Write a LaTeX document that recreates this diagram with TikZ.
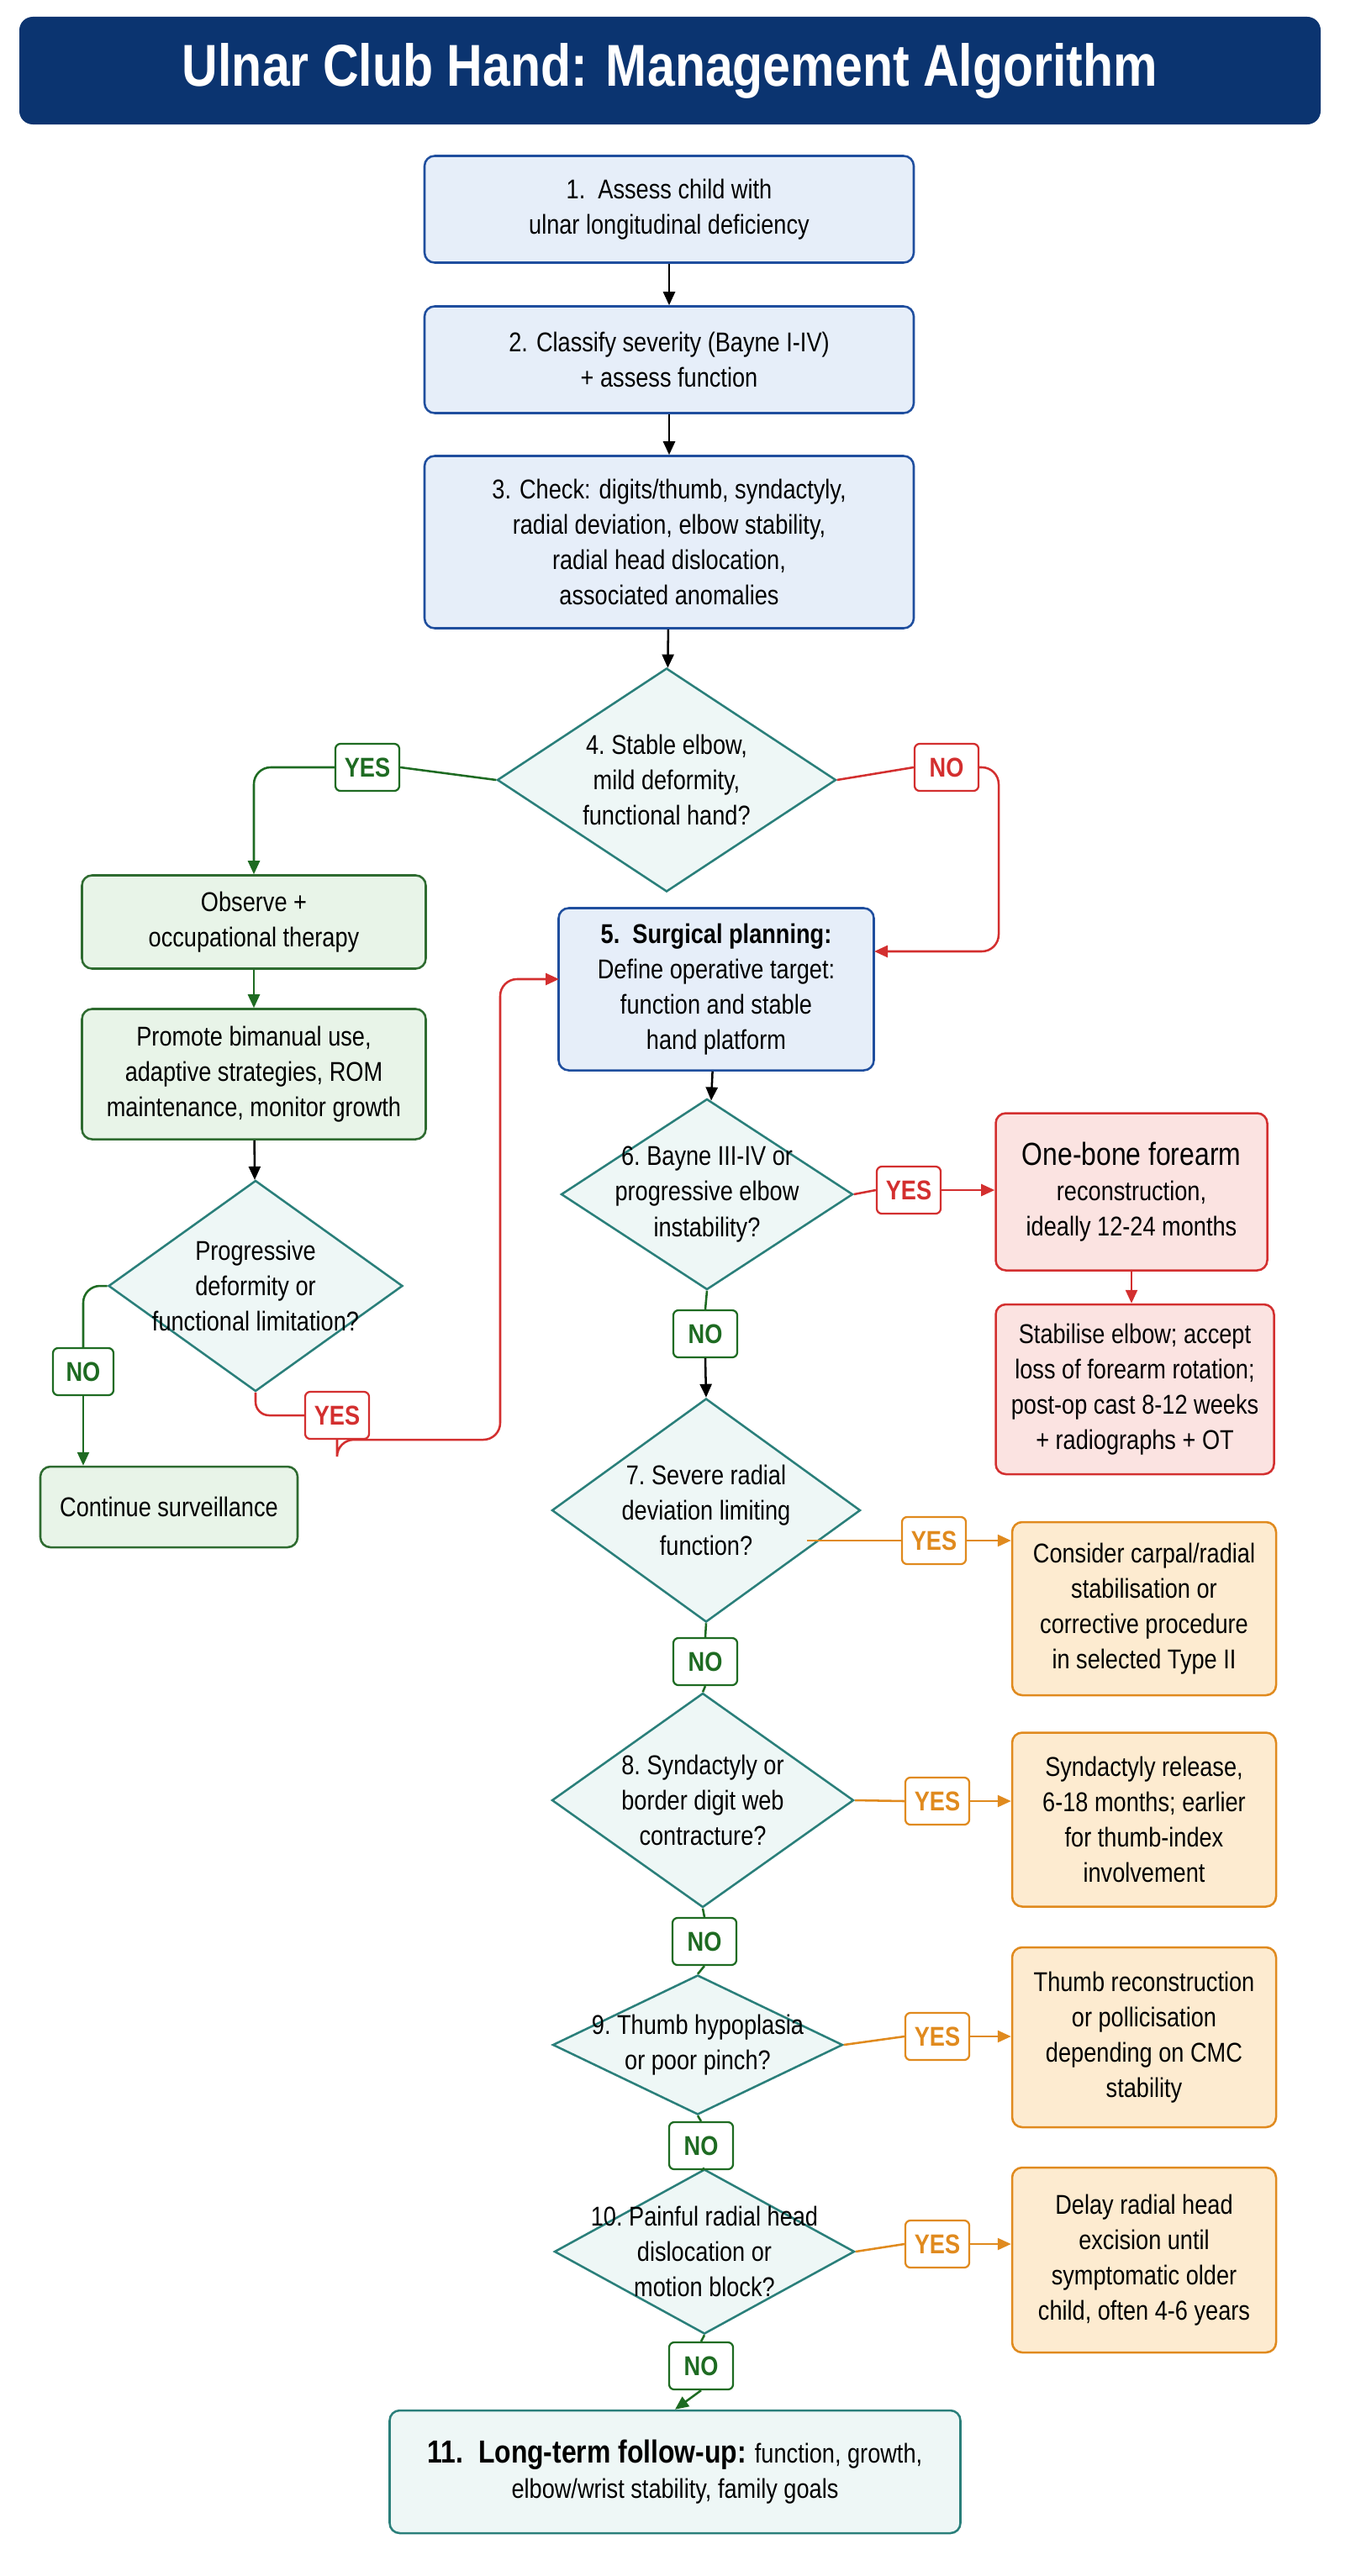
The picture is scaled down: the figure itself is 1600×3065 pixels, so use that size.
\documentclass[tikz,border=0pt]{standalone}
\usepackage{fontspec}
\setmainfont{Liberation Sans}[FakeStretch=0.84]
\usetikzlibrary{shapes.geometric,arrows.meta}
\definecolor{navy}{HTML}{0B3470}
\definecolor{bfill}{HTML}{E6EEF9}\definecolor{bdraw}{HTML}{1F4E9E}
\definecolor{gfill}{HTML}{E8F4E8}\definecolor{gdraw}{HTML}{2E6B30}
\definecolor{tfill}{HTML}{EEF7F6}\definecolor{tdraw}{HTML}{2A7F7A}
\definecolor{rfill}{HTML}{FBE3E1}\definecolor{rdraw}{HTML}{D32F2F}
\definecolor{ofill}{HTML}{FDEBD0}\definecolor{odraw}{HTML}{E08A1E}
\definecolor{gline}{HTML}{1E6B22}
\begin{document}
\begin{tikzpicture}[x=0.25mm,y=-0.25mm,
  txt/.style={font=\fontsize{23}{30}\selectfont,align=center,text=black},
  box/.style={txt,rounded corners=3mm,line width=1.8pt,inner sep=0pt},
  bbox/.style={box,fill=bfill,draw=bdraw},
  gbox/.style={box,fill=gfill,draw=gdraw},
  rbox/.style={box,fill=rfill,draw=rdraw},
  obox/.style={box,fill=ofill,draw=odraw},
  dia/.style={diamond,fill=tfill,draw=tdraw,line width=1.8pt,inner sep=0pt},
  lab/.style={font=\bfseries\fontsize{23}{26}\selectfont,fill=white,rounded corners=1.5mm,line width=1.6pt,inner sep=0pt,minimum width=19mm,minimum height=14mm},
  glab/.style={lab,draw=gline,text=gline},
  rlab/.style={lab,draw=rdraw,text=rdraw},
  olab/.style={lab,draw=odraw,text=odraw},
  ar/.style={line width=1.8pt,-{Triangle[length=4mm,width=3.5mm]}},
  ln/.style={line width=1.8pt}]
\fill[white] (0,0) rectangle (1600,3065);
\node[fill=navy,rounded corners=4mm,minimum width=1548*0.25mm,minimum height=128*0.25mm,text=white,font=\bfseries\fontsize{50}{56}\selectfont] (title) at (797,84) {Ulnar Club Hand: Management Algorithm};
% main column
\node[bbox,minimum width=582*0.25mm,minimum height=127*0.25mm] (b1) at (796,249) {1.\ \ Assess child with\\ulnar longitudinal deficiency};
\node[bbox,minimum width=582*0.25mm,minimum height=127*0.25mm] (b2) at (796,428) {2. Classify severity (Bayne I-IV)\\+ assess function};
\node[bbox,minimum width=582*0.25mm,minimum height=205*0.25mm] (b3) at (796,645) {3. Check: digits/thumb, syndactyly,\\radial deviation, elbow stability,\\radial head dislocation,\\associated anomalies};
\node[dia,minimum width=403*0.25mm,minimum height=266*0.25mm] (d4) at (793,928) {};
\node[txt] at (d4) {4.\ Stable elbow,\\mild deformity,\\functional hand?};
% left branch
\node[gbox,minimum width=409*0.25mm,minimum height=111*0.25mm] (obs) at (302,1097) {Observe +\\occupational therapy};
\node[gbox,minimum width=409*0.25mm,minimum height=155*0.25mm] (prom) at (302,1278) {Promote bimanual use,\\adaptive strategies, ROM\\maintenance, monitor growth};
\node[dia,minimum width=350*0.25mm,minimum height=251*0.25mm] (dp) at (304,1530) {};
\node[txt] at (dp) {Progressive\\deformity or\\functional limitation?};
\node[gbox,minimum width=306*0.25mm,minimum height=96*0.25mm] (cont) at (201,1793) {Continue surveillance};
% surgical column
\node[bbox,minimum width=375*0.25mm,minimum height=193*0.25mm] (b5) at (852,1177) {\textbf{5.\ \ Surgical planning:}\\Define operative target:\\function and stable\\hand platform};
\node[dia,minimum width=347*0.25mm,minimum height=227*0.25mm] (d6) at (841,1421) {};
\node[txt] at (d6) {6.\ Bayne III-IV or\\progressive elbow\\instability?};
\node[rbox,minimum width=323*0.25mm,minimum height=187*0.25mm] (r1) at (1346,1418) {{\fontsize{27}{32}\selectfont One-bone forearm}\\reconstruction,\\ideally 12-24 months};
\node[rbox,minimum width=331*0.25mm,minimum height=202*0.25mm] (r2) at (1350,1653) {Stabilise elbow; accept\\loss of forearm rotation;\\post-op cast 8-12 weeks\\+ radiographs + OT};
\node[dia,minimum width=367*0.25mm,minimum height=266*0.25mm] (d7) at (840,1797) {};
\node[txt] at (d7) {7.\ Severe radial\\deviation limiting\\function?};
\node[obox,minimum width=314*0.25mm,minimum height=206*0.25mm] (o7) at (1361,1914) {Consider carpal/radial\\stabilisation or\\corrective procedure\\in selected Type II};
\node[dia,minimum width=359*0.25mm,minimum height=255*0.25mm] (d8) at (836,2142) {};
\node[txt] at (d8) {8.\ Syndactyly or\\border digit web\\contracture?};
\node[obox,minimum width=314*0.25mm,minimum height=207*0.25mm] (o8) at (1361,2165) {Syndactyly release,\\6-18 months; earlier\\for thumb-index\\involvement};
\node[dia,minimum width=345*0.25mm,minimum height=166*0.25mm] (d9) at (830,2433) {};
\node[txt] at (d9) {9.\ Thumb hypoplasia\\or poor pinch?};
\node[obox,minimum width=314*0.25mm,minimum height=214*0.25mm] (o9) at (1361,2424) {Thumb reconstruction\\or pollicisation\\depending on CMC\\stability};
\node[dia,minimum width=357*0.25mm,minimum height=196*0.25mm] (d10) at (838,2679) {};
\node[txt] at (d10) {10.\ Painful radial head\\dislocation or\\motion block?};
\node[obox,minimum width=314*0.25mm,minimum height=220*0.25mm] (o10) at (1361,2689) {Delay radial head\\excision until\\symptomatic older\\child, often 4-6 years};
\node[box,fill=tfill,draw=tdraw,minimum width=679*0.25mm,minimum height=146*0.25mm] (b11) at (803,2941) {{\bfseries\fontsize{27}{32}\selectfont 11.\ \ Long-term follow-up:} function, growth,\\elbow/wrist stability, family goals};
% labels
\node[glab] (y4) at (437,913) {YES};
\node[rlab] (n4) at (1126,913) {NO};
\node[glab,minimum width=18mm,minimum height=14mm] (np) at (99,1632) {NO};
\node[rlab] (yp) at (401,1684) {YES};
\node[rlab] (y6) at (1081,1416) {YES};
\node[glab] (n6) at (839,1587) {NO};
\node[olab] (y7) at (1111,1833) {YES};
\node[glab] (n7) at (839,1977) {NO};
\node[olab] (y8) at (1115,2143) {YES};
\node[glab] (n8) at (838,2310) {NO};
\node[olab] (y9) at (1115,2423) {YES};
\node[glab] (n9) at (834,2553) {NO};
\node[olab] (y10) at (1115,2670) {YES};
\node[glab] (n10) at (834,2815) {NO};
\coordinate (c5l) at (665,1165);
\coordinate (c5r) at (1040,1132);
% connectors
\draw[ar] (b1) -- (b2);
\draw[ar] (b2) -- (b3);
\draw[ar] (b3) -- (d4);
\draw[ln,gline] (d4.west) -- (y4.east);
\draw[ar,gline,rounded corners=5mm] (y4.west) -| (obs.north);
\draw[ln,rdraw] (d4.east) -- (n4.west);
\draw[ar,rdraw,rounded corners=5mm] (n4.east) -| (1188,1050) |- (c5r);
\draw[ar,gline] (obs) -- (prom);
\draw[ar] (prom) -- (dp);
\draw[ln,gline,rounded corners=5mm] (dp.west) -| (np.north);
\draw[ar,gline] (np.south) -- (np.south |- cont.north);
\draw[ln,rdraw,rounded corners=4mm] (dp.south) |- (yp.west);
\draw[ar,rdraw,rounded corners=5mm] (yp.south) |- (595,1713) -- (595,1165) -- (c5l);
\draw[ar] (b5) -- (d6);
\draw[ln,rdraw] (d6.east) -- (y6.west);
\draw[ar,rdraw] (y6.east) -- (r1.west |- y6);
\draw[ar,rdraw] (r1) -- (r1.south |- r2.north);
\draw[ln,gline] (d6.south) -- (n6.north);
\draw[ar] (n6.south) -- (d7.north);
\draw[ln,odraw] (y7.west) -- (y7.west -| 960,1833);
\draw[ar,odraw] (y7.east) -- (o7.west |- y7);
\draw[ln,gline] (d7.south) -- (n7.north);
\draw[ln,gline] (n7.south) -- (d8.north);
\draw[ln,odraw] (d8.east) -- (y8.west);
\draw[ar,odraw] (y8.east) -- (o8.west |- y8);
\draw[ln,gline] (d8.south) -- (n8.north);
\draw[ln,gline] (n8.south) -- (d9.north);
\draw[ln,odraw] (d9.east) -- (y9.west);
\draw[ar,odraw] (y9.east) -- (o9.west |- y9);
\draw[ln,gline] (d9.south) -- (n9.north);
\draw[ln,gline] (n9.south) -- (d10.north);
\draw[ln,odraw] (d10.east) -- (y10.west);
\draw[ar,odraw] (y10.east) -- (o10.west |- y10);
\draw[ln,gline] (d10.south) -- (n10.north);
\draw[ar,gline] (n10.south) -- (b11.north);
\end{tikzpicture}
\end{document}
